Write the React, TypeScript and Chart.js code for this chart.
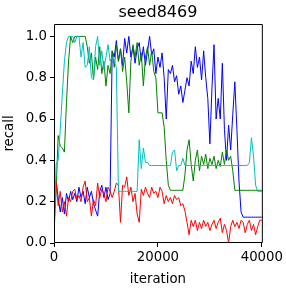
import React, { useEffect, useRef } from "react";
import { Chart, registerables } from "chart.js";

Chart.register(...registerables);

const TITLE = "seed8469";
const X_LABEL = "iteration";
const Y_LABEL = "recall";
const X_TICKS = [0, 20000, 40000];
const Y_TICKS = [0, 0.2, 0.4, 0.6, 0.8, 1.0];
const STEP = 400;

const BLUE = [
  0.12, 0.30, 0.22, 0.15, 0.22, 0.14, 0.24, 0.20, 0.25, 0.21,
  0.24, 0.20, 0.27, 0.22, 0.25, 0.19, 0.27, 0.22, 0.25, 0.19,
  0.16, 0.13, 0.25, 0.28, 0.22, 0.27, 0.21, 0.24, 0.93, 0.90,
  0.98, 0.88, 0.94, 0.86, 0.99, 0.92, 1.0, 0.90, 0.95, 0.87,
  0.94, 0.97, 0.88, 0.95, 0.86, 0.93, 1.0, 0.91, 0.94, 0.82,
  0.90, 0.85, 0.92, 0.80, 0.60, 0.84, 0.82, 0.86, 0.78, 0.81,
  0.72, 0.76, 0.68, 0.74, 0.80, 0.76, 0.88, 0.82, 0.95, 0.85,
  0.90, 0.79, 0.93, 0.80, 0.70, 0.48, 0.75, 0.96, 0.60, 0.70,
  0.60, 0.87, 0.55, 0.40, 0.57, 0.45, 0.62, 0.78, 0.55, 0.30,
  0.15, 0.125, 0.125, 0.125, 0.125, 0.125, 0.125, 0.125, 0.125, 0.125,
  0.125,
];

const GREEN = [
  0.05, 0.25, 0.52, 0.47, 0.46, 0.44, 0.68, 0.88, 1.0, 0.97,
  1.0, 1.0, 1.0, 1.0, 1.0, 1.0, 0.95, 0.87, 0.92, 0.79,
  0.90, 0.84, 0.95, 0.82, 0.88, 0.76, 0.86, 0.82, 0.93, 0.85,
  0.96, 0.88, 0.94, 0.83, 0.90, 0.78, 0.63, 0.88, 0.96, 0.90,
  0.97, 0.86, 0.92, 0.76, 0.90, 0.95, 0.86, 0.93, 0.83, 0.80,
  0.63, 0.63, 0.63, 0.56, 0.40, 0.28, 0.255, 0.255, 0.255, 0.255,
  0.255, 0.255, 0.255, 0.33, 0.45, 0.50, 0.38, 0.30, 0.40, 0.45,
  0.35, 0.42, 0.38, 0.43, 0.36, 0.41, 0.38, 0.42, 0.36, 0.40,
  0.37, 0.44, 0.38, 0.45, 0.40, 0.42, 0.35, 0.255, 0.255, 0.255,
  0.255, 0.255, 0.255, 0.255, 0.255, 0.255, 0.255, 0.255, 0.255, 0.255,
  0.255,
];

const RED = [
  0.12, 0.30, 0.18, 0.25, 0.15, 0.20, 0.13, 0.22, 0.20, 0.25,
  0.26, 0.21, 0.23, 0.20, 0.27, 0.30, 0.20, 0.22, 0.13, 0.21,
  0.18, 0.29, 0.22, 0.26, 0.24, 0.20, 0.27, 0.25, 0.22, 0.25,
  0.29, 0.28, 0.10, 0.28, 0.27, 0.32, 0.23, 0.27, 0.20, 0.24,
  0.14, 0.10, 0.26, 0.23, 0.27, 0.24, 0.22, 0.27, 0.24, 0.25,
  0.22, 0.27, 0.25, 0.19, 0.23, 0.20, 0.22, 0.19, 0.23, 0.21,
  0.22, 0.18, 0.19, 0.155, 0.10, 0.04, 0.11, 0.08, 0.11, 0.06,
  0.10, 0.07, 0.11, 0.08, 0.10, 0.06, 0.09, 0.11, 0.07, 0.10,
  0.12, 0.05, 0.09, 0.06, 0.00, 0.08, 0.11, 0.08, 0.10, 0.07,
  0.11, 0.10, 0.05, 0.09, 0.11, 0.06, 0.09, 0.04, 0.08, 0.11,
  0.11,
];

const CYAN = [
  0.02, 0.38, 0.40, 0.55, 0.72, 0.88, 0.97, 1.0, 1.0, 1.0,
  0.97, 1.0, 1.0, 0.90, 0.97, 0.85, 0.86, 0.95, 0.80, 0.79,
  0.95, 1.0, 0.86, 0.93, 0.84, 0.90, 0.96, 0.88, 0.90, 0.88,
  0.85, 0.25, 0.25, 0.25, 0.25, 0.25, 0.25, 0.25, 0.25, 0.25,
  0.25, 0.50, 0.36, 0.46, 0.39, 0.39, 0.375, 0.375, 0.375, 0.375,
  0.375, 0.375, 0.375, 0.375, 0.375, 0.375, 0.375, 0.44, 0.45, 0.35,
  0.375, 0.375, 0.41, 0.375, 0.375, 0.375, 0.375, 0.375, 0.375, 0.375,
  0.375, 0.375, 0.375, 0.375, 0.375, 0.375, 0.375, 0.375, 0.375, 0.375,
  0.375, 0.375, 0.375, 0.375, 0.375, 0.375, 0.375, 0.375, 0.375, 0.375,
  0.375, 0.375, 0.375, 0.375, 0.39, 0.51, 0.42, 0.28, 0.25, 0.25,
  0.25,
];

const FONT = "'DejaVu Sans'";

export default function App() {
  const ref = useRef<HTMLCanvasElement>(null);

  useEffect(() => {
    if (!ref.current) return;
    const iters = BLUE.map((_, i) => i * STEP);
    const mk = (vals: number[], color: string, order: number) => ({
      data: vals.map((v, i) => ({ x: iters[i], y: v })),
      borderColor: color,
      backgroundColor: color,
      borderWidth: 1,
      pointRadius: 0,
      tension: 0,
      fill: false,
      order,
    });

    const framePlugin = {
      id: "frame",
      afterDraw(chart: any) {
        const { ctx, chartArea: a } = chart;
        ctx.save();
        ctx.strokeStyle = "#000";
        ctx.lineWidth = 1;
        ctx.beginPath();
        ctx.rect(a.left + 0.5, a.top + 0.5, a.right - a.left, a.bottom - a.top - 1);
        ctx.stroke();
        ctx.fillStyle = "#000";
        ctx.font = `16px ${FONT}`;
        ctx.textAlign = "center";
        ctx.textBaseline = "alphabetic";
        ctx.fillText(TITLE, (a.left + a.right) / 2, 16.7);
        ctx.restore();
      },
    };

    const chart = new Chart(ref.current, {
      type: "line",
      data: {
        datasets: [
          mk(BLUE, "#0000ff", 3),
          mk(GREEN, "#008000", 2),
          mk(RED, "#ff0000", 1),
          mk(CYAN, "#00bfbf", 0),
        ],
      },
      options: {
        animation: false,
        responsive: false,
        maintainAspectRatio: false,
        layout: { padding: { top: 24, right: 24, bottom: 0, left: 0 } },
        plugins: {
          legend: { display: false },
          tooltip: { enabled: false },
          title: { display: false },
        },
        scales: {
          x: {
            type: "linear",
            min: 0,
            max: 40000,
            afterBuildTicks: (s: any) => {
              s.ticks = X_TICKS.map((v) => ({ value: v }));
            },
            afterFit: (s: any) => {
              s.height = 47;
            },
            ticks: {
              autoSkip: false,
              maxRotation: 0,
              padding: 3,
              color: "#000",
              font: { family: FONT, size: 13.3 },
              callback: (v: any) => String(v),
            },
            grid: {
              drawOnChartArea: false,
              drawTicks: true,
              tickLength: 4,
              color: "#000",
            },
            border: { display: false },
            title: {
              display: true,
              text: X_LABEL,
              color: "#000",
              font: { family: FONT, size: 13.3 },
              padding: { top: 0, bottom: 2 },
            },
          },
          y: {
            type: "linear",
            min: 0,
            max: 1.06,
            afterBuildTicks: (s: any) => {
              s.ticks = Y_TICKS.map((v) => ({ value: v }));
            },
            afterFit: (s: any) => {
              s.width = 54;
            },
            ticks: {
              autoSkip: false,
              padding: 3,
              color: "#000",
              font: { family: FONT, size: 13.3 },
              callback: (v: any) => Number(v).toFixed(1),
            },
            grid: {
              drawOnChartArea: false,
              drawTicks: true,
              tickLength: 4,
              color: "#000",
            },
            border: { display: false },
            title: {
              display: true,
              text: Y_LABEL,
              color: "#000",
              font: { family: FONT, size: 13.3 },
              padding: { top: 2, bottom: 0 },
            },
          },
        },
      },
      plugins: [framePlugin],
    });

    return () => chart.destroy();
  }, []);

  return (
    <div style={{ position: "fixed", left: 0, top: 0, width: 286, height: 290, background: "#fff" }}>
      <canvas ref={ref} width={286} height={290} style={{ display: "block", width: 286, height: 290 }} />
    </div>
  );
}
